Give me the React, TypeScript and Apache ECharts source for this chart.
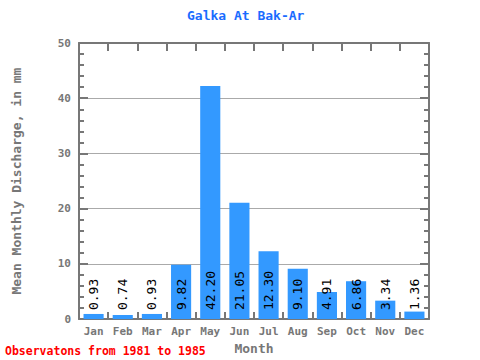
import React, { useEffect, useRef } from "react";
import * as echarts from "echarts";

const months = ["Jan", "Feb", "Mar", "Apr", "May", "Jun", "Jul", "Aug", "Sep", "Oct", "Nov", "Dec"];
const discharge = [0.93, 0.74, 0.93, 9.82, 42.2, 21.05, 12.3, 9.1, 4.91, 6.86, 3.34, 1.36];
const titleText = "Galka At Bak-Ar";
const footerText = "Observatons from 1981 to 1985";
const yName = "Mean Monthly Discharge, in mm";
const xName = "Month";

const FONT = "'DejaVu Sans Mono', 'Liberation Mono', monospace";
const GRAY = "#777777";

export default function App() {
  const ref = useRef<HTMLDivElement>(null);
  useEffect(() => {
    if (!ref.current) return;
    const chart = echarts.init(ref.current, undefined, { renderer: "svg" });
    const axisLine = { show: true, onZero: false, lineStyle: { color: GRAY, width: 2 } };
    chart.setOption({
      animation: false,
      grid: { left: 79, right: 51, top: 43, bottom: 38 },
      graphic: [
        {
          type: "text",
          left: 187,
          top: 9,
          style: { text: titleText, fill: "#1a6cff", font: `bold 13px ${FONT}` },
        },
        {
          type: "text",
          left: 5,
          top: 345,
          style: { text: footerText, fill: "#ff0000", font: `bold 11.5px ${FONT}` },
        },
      ],
      xAxis: [
        {
          type: "category",
          data: months,
          position: "bottom",
          axisLine,
          axisTick: { show: true, inside: true, interval: 0, length: 7, lineStyle: { color: GRAY, width: 2 } },
          axisLabel: { color: GRAY, fontFamily: FONT, fontWeight: "bold", fontSize: 11, margin: 7, interval: 0 },
          name: xName,
          nameLocation: "middle",
          nameGap: 19,
          nameTextStyle: { color: GRAY, fontFamily: FONT, fontWeight: "bold", fontSize: 13 },
          splitLine: { show: false },
        },
        {
          type: "category",
          data: months,
          position: "top",
          axisLine,
          axisTick: { show: true, inside: true, interval: 0, length: 8, lineStyle: { color: GRAY, width: 2 } },
          axisLabel: { show: false },
          splitLine: { show: false },
        },
      ],
      yAxis: [
        {
          type: "value",
          min: 0,
          max: 50,
          interval: 10,
          position: "left",
          axisLine,
          axisTick: { show: true, inside: true, length: 9, lineStyle: { color: GRAY, width: 2 } },
          minorTick: { show: true, splitNumber: 5, length: 5, lineStyle: { color: GRAY, width: 2 } },
          axisLabel: { color: GRAY, fontFamily: FONT, fontWeight: "bold", fontSize: 11, margin: 8 },
          splitLine: { show: true, lineStyle: { color: "#aaaaaa", width: 1 } },
          name: yName,
          nameLocation: "middle",
          nameGap: 56,
          nameTextStyle: { color: GRAY, fontFamily: FONT, fontWeight: "bold", fontSize: 13 },
        },
        {
          type: "value",
          min: 0,
          max: 50,
          interval: 10,
          position: "right",
          axisLine,
          axisTick: { show: true, inside: true, length: 9, lineStyle: { color: GRAY, width: 2 } },
          minorTick: { show: true, splitNumber: 5, length: 5, lineStyle: { color: GRAY, width: 2 } },
          axisLabel: { show: false },
          splitLine: { show: false },
        },
      ],
      series: [
        {
          type: "bar",
          data: discharge,
          xAxisIndex: 0,
          yAxisIndex: 0,
          barCategoryGap: "31%",
          itemStyle: { color: "#3399ff" },
          label: {
            show: true,
            position: "insideBottom",
            rotate: 90,
            align: "left",
            verticalAlign: "middle",
            distance: 9,
            color: "#000000",
            fontFamily: FONT,
            fontSize: 13,
            formatter: (p: any) => Number(p.value).toFixed(2),
          },
        },
      ],
    });
    return () => chart.dispose();
  }, []);
  return <div ref={ref} style={{ width: 480, height: 360, position: "absolute", left: 0, top: 0 }} />;
}
